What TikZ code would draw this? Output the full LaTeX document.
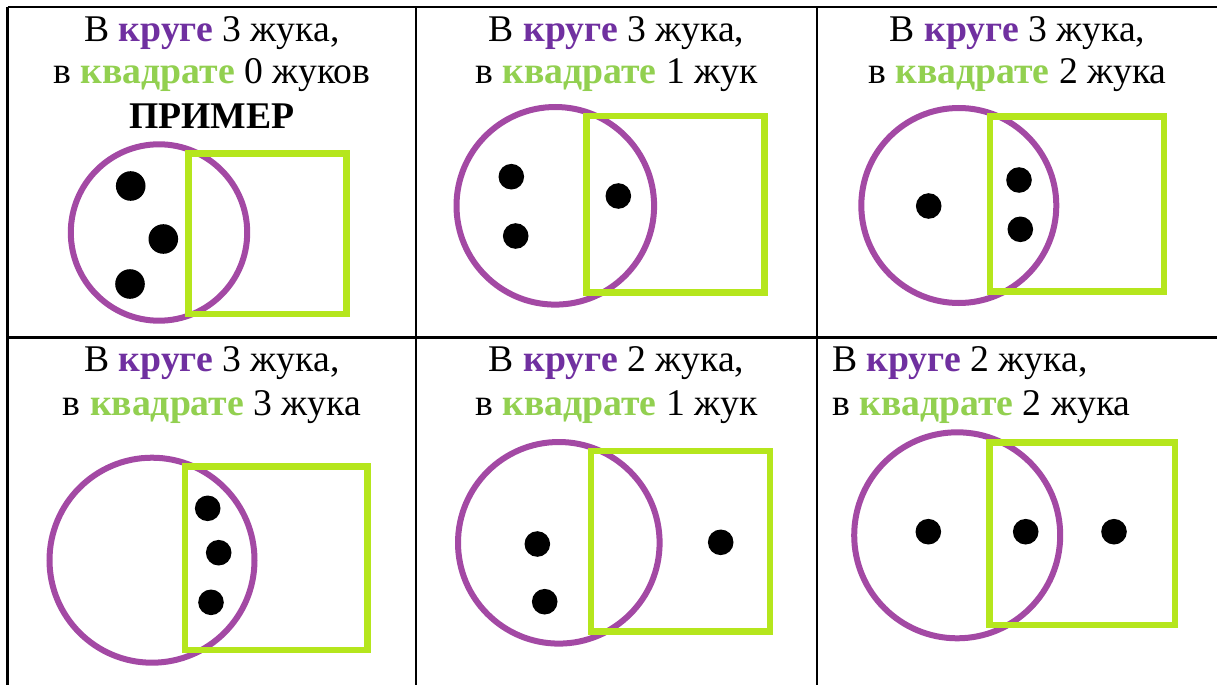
\documentclass[tikz,border=0pt]{standalone}
\usepackage{fontspec}
\setmainfont{Liberation Serif}
\definecolor{txtpurple}{HTML}{7030A0}
\definecolor{txtgreen}{HTML}{92D050}
\definecolor{ringcol}{HTML}{A349A4}
\definecolor{boxcol}{HTML}{B5E61D}
\newcommand{\kr}{\textbf{\textcolor{txtpurple}{круге}}}
\newcommand{\kv}{\textbf{\textcolor{txtgreen}{квадрате}}}
\begin{document}
\begin{tikzpicture}[x=1pt,y=-1pt,
  gridline/.style={line width=2.6pt,black},
  txt/.style={font=\fontsize{37.7}{43}\selectfont,inner sep=0pt,anchor=base},
  txtl/.style={font=\fontsize{37.7}{43}\selectfont,inner sep=0pt,anchor=base west},
  ring/.style={circle,draw=ringcol,line width=6pt,inner sep=0pt},
  sq/.style={rectangle,draw=boxcol,line width=6.7pt,inner sep=0pt},
  bug/.style={circle,fill=black,inner sep=0pt,minimum size=25.6pt},
  bigbug/.style={circle,fill=black,inner sep=0pt,minimum size=29.6pt}]
\useasboundingbox (0,0) rectangle (1217,685);
\fill[white] (0,0) rectangle (1217,685);
% grid
\coordinate (tl) at (7.7,7);
\coordinate (tr) at (1217,7);
\coordinate (bl) at (7.7,685);
\coordinate (ml) at (7.7,337.5);
\coordinate (mr) at (1217,337.5);
\coordinate (v1t) at (416,7);
\coordinate (v1b) at (416,685);
\coordinate (v2t) at (817,7);
\coordinate (v2b) at (817,685);
\draw[gridline] (tl) -- (tr);
\draw[gridline] (ml) -- (mr);
\draw[gridline] (tl) -- (bl);
\draw[gridline] (v1t) -- (v1b);
\draw[gridline] (v2t) -- (v2b);
% cell 1
\node[txt] (t11) at (212,41.7) {В \kr{} 3 жука,};
\node[txt] (t12) at (212,83.3) {в \kv{} 0 жуков};
\node[txt] (t13) at (212,128.3) {\textbf{ПРИМЕР}};
\node[ring,minimum size=176.4pt] (c1) at (159,232.5) {};
\node[sq,minimum width=158.4pt,minimum height=160.7pt] (s1) at (267.5,233.7) {};
\node[bigbug] (b11) at (130.7,186) {};
\node[bigbug] (b12) at (163.3,239) {};
\node[bigbug] (b13) at (130,284) {};
% cell 2
\node[txt] (t21) at (616.5,41.7) {В \kr{} 3 жука,};
\node[txt] (t22) at (616.5,83.3) {в \kv{} 1 жук};
\node[ring,minimum size=197.6pt] (c2) at (555.3,205.8) {};
\node[sq,minimum width=177.6pt,minimum height=176.7pt] (s2) at (675.5,204.3) {};
\node[bug] (b21) at (511.3,176.7) {};
\node[bug] (b22) at (515.7,236) {};
\node[bug] (b23) at (618.3,196) {};
% cell 3
\node[txt] (t31) at (1017.5,41.7) {В \kr{} 3 жука,};
\node[txt] (t32) at (1017.5,83.3) {в \kv{} 2 жука};
\node[ring,minimum size=195pt] (c3) at (958.8,205.5) {};
\node[sq,minimum width=174pt,minimum height=175pt] (s3) at (1077,204.2) {};
\node[bug] (b31) at (928.7,206) {};
\node[bug] (b32) at (1019,180) {};
\node[bug] (b33) at (1020.3,229.3) {};
% cell 4
\node[txt] (t41) at (212,371.7) {В \kr{} 3 жука,};
\node[txt] (t42) at (212,415) {в \kv{} 3 жука};
\node[ring,minimum size=205pt] (c4) at (152,560.2) {};
\node[sq,minimum width=182.7pt,minimum height=183.3pt] (s4) at (276.3,558.3) {};
\node[bug] (b41) at (207.7,508.3) {};
\node[bug] (b42) at (218.7,552.7) {};
\node[bug] (b43) at (211,602.3) {};
% cell 5
\node[txt] (t51) at (616.5,371.7) {В \kr{} 2 жука,};
\node[txt] (t52) at (616.5,415) {в \kv{} 1 жук};
\node[ring,minimum size=201.6pt] (c5) at (558.8,542.8) {};
\node[sq,minimum width=179pt,minimum height=180.7pt] (s5) at (680.5,541.3) {};
\node[bug] (b51) at (537.3,544) {};
\node[bug] (b52) at (544.7,601.7) {};
\node[bug] (b53) at (720.7,542.3) {};
% cell 6
\node[txtl] (t61) at (832,371.7) {В \kr{} 2 жука,};
\node[txtl] (t62) at (832,415) {в \kv{} 2 жука};
\node[ring,minimum size=206pt] (c6) at (957.2,535.3) {};
\node[sq,minimum width=185.7pt,minimum height=182.7pt] (s6) at (1082.2,533.7) {};
\node[bug] (b61) at (928.3,531.7) {};
\node[bug] (b62) at (1025.7,531.7) {};
\node[bug] (b63) at (1114,531.7) {};
\end{tikzpicture}
\end{document}
